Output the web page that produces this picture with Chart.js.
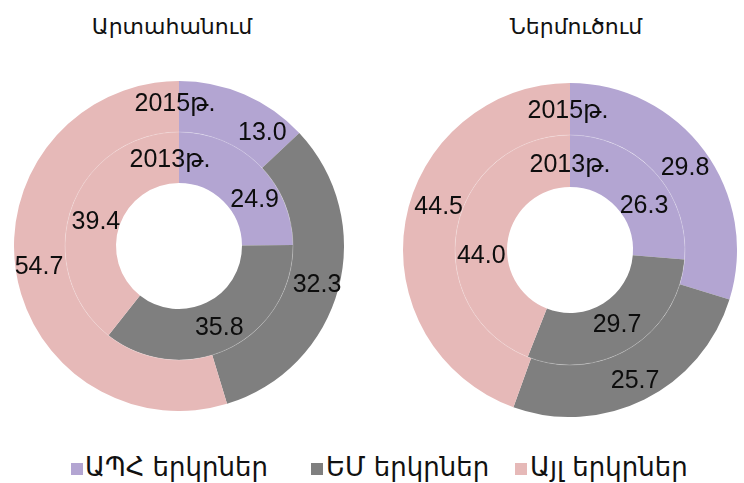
<!DOCTYPE html>
<html>
<head>
<meta charset="utf-8">
<script src="https://cdn.jsdelivr.net/npm/chart.js@4"></script>
<style>
  html, body { margin: 0; padding: 0; background: #fff; }
  #wrap { position: relative; width: 744px; height: 483px; overflow: hidden; background: #fff; }
  canvas { position: absolute; }
  .title { position: absolute; top: 14px; font: 22px "DejaVu Sans", sans-serif; color: #111; white-space: nowrap; transform: translateX(-50%); }
  .leg { position: absolute; top: 452px; font: 26px "DejaVu Sans", sans-serif; line-height: 30px; color: #111; white-space: nowrap; }
  .sq { position: absolute; top: 463px; width: 12px; height: 12px; }
</style>
</head>
<body>
<div id="wrap">
  <div class="title" id="t1" style="left:172px"></div>
  <div class="title" id="t2" style="left:576px"></div>
  <canvas id="c1" width="330" height="330" style="left:14px; top:81px"></canvas>
  <canvas id="c2" width="334" height="334" style="left:403px; top:83px"></canvas>
  <div id="legend"></div>
</div>
<script>
// ---- data ----
const titles = ['Արտահանում', 'Ներմուծում'];
const categories = ['ԱՊՀ երկրներ', 'ԵՄ երկրներ', 'Այլ երկրներ'];
const years = ['2015թ.', '2013թ.'];
const export2015 = [13.0, 32.3, 54.7];
const export2013 = [24.9, 35.8, 39.4];
const import2015 = [29.8, 25.7, 44.5];
const import2013 = [26.3, 29.7, 44.0];

// ---- style ----
const colors = ['#b3a5d2', '#7f7f7f', '#e6b9b8'];

document.getElementById('t1').textContent = titles[0];
document.getElementById('t2').textContent = titles[1];

// legend
const legPos = [{sq: 71, tx: 85}, {sq: 311, tx: 326}, {sq: 515, tx: 530}];
const legend = document.getElementById('legend');
categories.forEach((c, i) => {
  const s = document.createElement('div');
  s.className = 'sq'; s.style.left = legPos[i].sq + 'px'; s.style.background = colors[i];
  legend.appendChild(s);
  const t = document.createElement('div');
  t.className = 'leg'; t.style.left = legPos[i].tx + 'px'; t.textContent = c;
  legend.appendChild(t);
});

const labelPlugin = {
  id: 'ringLabels',
  afterDatasetsDraw(chart, args, opts) {
    const ctx = chart.ctx;
    ctx.save();
    ctx.font = '25px "Liberation Sans", "DejaVu Sans", sans-serif';
    ctx.fillStyle = '#0d0d0d';
    ctx.textAlign = 'center';
    ctx.textBaseline = 'middle';
    let sepR = null, cx = 0, cy = 0;
    chart.data.datasets.forEach((ds, di) => {
      const meta = chart.getDatasetMeta(di);
      meta.data.forEach((arc, i) => {
        const p = arc.getProps(['x', 'y', 'startAngle', 'endAngle', 'innerRadius', 'outerRadius'], true);
        cx = p.x; cy = p.y;
        if (di === 0) sepR = p.innerRadius;
        const shift = (opts.shifts[di][i] || 0) * Math.PI / 180;
        const a = (p.startAngle + p.endAngle) / 2 + shift;
        const r = (p.innerRadius + p.outerRadius) / 2 + (opts.rShift[di][i] || 0);
        ctx.fillText(ds.data[i].toFixed(1), p.x + Math.cos(a) * r, p.y + Math.sin(a) * r);
      });
      // year label at the top of each ring
      const a0 = meta.data[0].getProps(['innerRadius', 'outerRadius'], true);
      const rr = (a0.innerRadius + a0.outerRadius) / 2 + opts.yearR[di];
      ctx.fillText(ds.label, cx + opts.yearX[di], cy - rr);
    });
    if (sepR) {
      ctx.strokeStyle = 'rgba(255,255,255,0.22)';
      ctx.lineWidth = 1;
      ctx.beginPath();
      ctx.arc(cx, cy, sepR, 0, Math.PI * 2);
      ctx.stroke();
    }
    ctx.restore();
  }
};

function makeChart(id, outer, inner, labelOpts) {
  return new Chart(document.getElementById(id), {
    type: 'doughnut',
    data: {
      labels: categories,
      datasets: [
        { label: years[0], data: outer, backgroundColor: colors, borderWidth: 0 },
        { label: years[1], data: inner, backgroundColor: colors, borderWidth: 0 }
      ]
    },
    options: {
      responsive: false,
      maintainAspectRatio: false,
      devicePixelRatio: 1,
      animation: false,
      events: [],
      cutout: 63,
      layout: { padding: 0 },
      plugins: {
        legend: { display: false },
        tooltip: { enabled: false },
        title: { display: false },
        ringLabels: labelOpts
      }
    },
    plugins: [labelPlugin]
  });
}

makeChart('c1', export2015, export2013, {
  shifts: [[13, 1, 0], [14, 0, -3]],
  rShift: [[1, 4, 2], [0, 3, -2]],
  yearR: [2, -3], yearX: [-4, -9]
});
makeChart('c2', import2015, import2013, {
  shifts: [[1, 0, 8], [12, 0, -15]],
  rShift: [[0, 5, -3], [-3, 0, 0]],
  yearR: [-2, -4], yearX: [-2, 0]
});
</script>
</body>
</html>
